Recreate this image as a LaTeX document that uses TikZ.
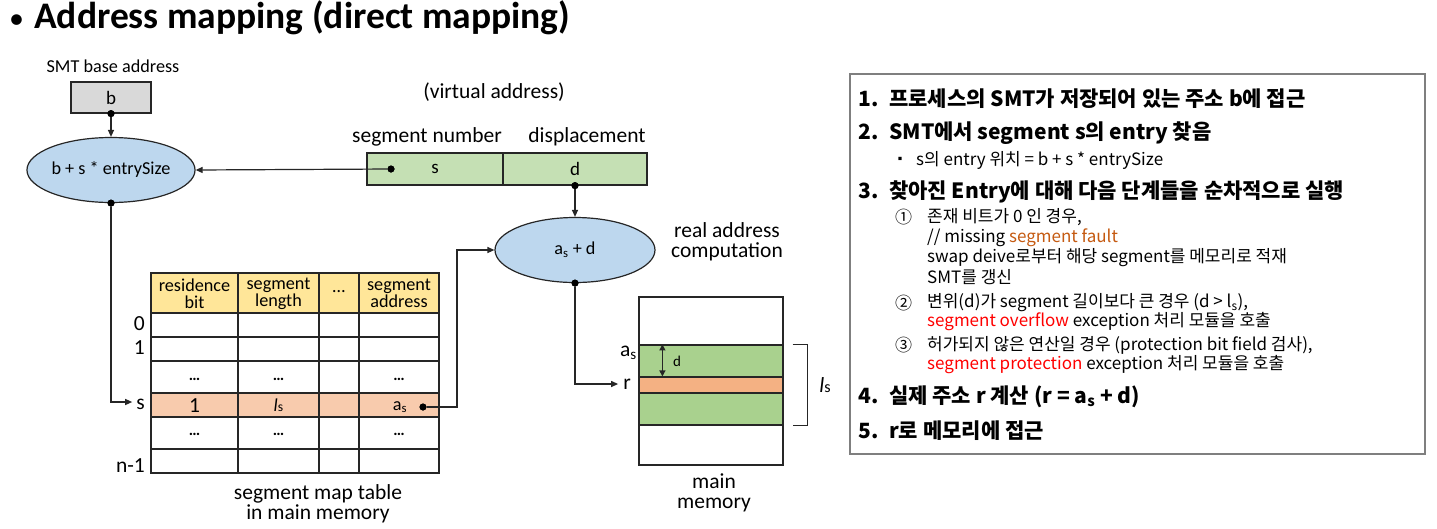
\documentclass[tikz,border=0pt]{standalone}
\usepackage{fontspec}
\setmainfont{Carlito}
\newfontfamily\kr{Noto Sans CJK KR}
\usetikzlibrary{shapes.geometric,arrows.meta,calc}

\definecolor{boxgray}{HTML}{D9D9D9}
\definecolor{ellblue}{HTML}{BDD7EE}
\definecolor{fieldgreen}{HTML}{C5E0B4}
\definecolor{headyellow}{HTML}{FFE699}
\definecolor{rowpeach}{HTML}{F8CBAD}
\definecolor{memgreen}{HTML}{A9D18E}
\definecolor{memorange}{HTML}{F4B183}
\definecolor{faultorange}{HTML}{C55A11}
\definecolor{linegray}{HTML}{262626}
\definecolor{framegray}{HTML}{7F7F7F}

% item number followed by its text
\newcommand\itemnum[2]{\makebox[31pt][l]{#1}#2}
% italic length symbol with small s
\newcommand\lensym{\textit{l}{\fontsize{0.75em}{1em}\selectfont s}}

\tikzset{
  lbl/.style={font=\fontsize{18.2}{17}\selectfont, align=center, inner sep=0},
  captext/.style={font=\fontsize{21.5}{20.5}\selectfont, align=center, inner sep=0},
  conn/.style={draw=linegray, line width=1.2, -{Triangle[length=7pt,width=6pt]}},
  dot/.style={circle, fill=black, inner sep=0, minimum size=7},
  calcell/.style={ellipse, draw=linegray, line width=1.2, fill=ellblue,
    minimum width=160, minimum height=65, inner sep=0, font=\fontsize{18.2}{17}\selectfont},
  field/.style={draw=linegray, line width=1.2, fill=fieldgreen, minimum height=32,
    inner sep=0, font=\fontsize{19}{17}\selectfont},
  tbl/.style={draw=linegray, line width=1.3},
  hdtext/.style={anchor=west, inner sep=0, font=\kr\bfseries\fontsize{21}{24}\selectfont},
  subtext/.style={anchor=west, inner sep=0, font=\kr\fontsize{17}{20}\selectfont},
}

\begin{document}
\begin{tikzpicture}[x=1pt,y=-1pt]
\useasboundingbox (0,0) rectangle (1437,528);
\fill[white] (0,0) rectangle (1437,528);

% heading
\node[anchor=west, inner sep=0, font=\bfseries\fontsize{37.5}{42}\selectfont] (title) at (9,18)
  {{\mdseries\fontsize{30}{30}\selectfont •}\hspace{10pt}Address mapping (direct mapping)};

% SMT base register and entry address computation
\node[lbl] (baselbl) at (113,66) {SMT base address};
\node[draw=linegray, line width=1.2, fill=boxgray, minimum width=80, minimum height=31,
  inner sep=0, font=\fontsize{19}{17}\selectfont] (bbox) at (111,97.5) {b};
\node[calcell] (calc1) at (111,170) {b + s * entrySize};

% virtual address
\node[captext] (vlbl) at (494,92) {(virtual address)};
\node[captext] (snlbl) at (427,137) {segment number};
\node[captext] (dlbl) at (587,137) {displacement};
\node[field, minimum width=136] (sfield) at (435,169) {s};
\node[field, minimum width=144] (dfield) at (575,169) {d};

% real address computation
\node[calcell] (calc2) at (575,250) {a\textsubscript{s} + d};
\node[captext] (reallbl) at (727,242) {real address\\computation};

% segment map table
\fill[headyellow] (151,273) rectangle (439,313);
\fill[rowpeach] (151,393) rectangle (439,417);
\draw[tbl] (151,273) rectangle (439,473);
\foreach \yy in {313,337,361,393,417,449} \draw[tbl] (151,\yy) -- (439,\yy);
\foreach \xx in {238,319,359} \draw[tbl] (\xx,273) -- (\xx,473);

\node[lbl] (h1) at (194.5,293.5) {residence\\bit};
\node[lbl] (h2) at (278.5,293.5) {segment\\length};
\node[lbl] (h3) at (339,292) {…};
\node[lbl] (h4) at (399,293.5) {segment\\address};

\node[captext, anchor=east] (r0) at (145,324) {0};
\node[captext, anchor=east] (r1) at (145,348) {1};
\node[captext, anchor=east] (slabel) at (145,404) {s};
\node[captext, anchor=east] (rn) at (145,466) {n-1};

\foreach \xx/\nm in {194.5/a,278.5/b,399/c} {
  \node[lbl, font=\bfseries\fontsize{16}{16}\selectfont] (dA\nm) at (\xx,379) {…};
  \node[lbl, font=\bfseries\fontsize{16}{16}\selectfont] (dB\nm) at (\xx,434) {…};
}
\node[captext] (v1) at (194.5,405.5) {1};
\node[lbl] (v2) at (278.5,405.5) {\lensym};
\node[lbl] (v3) at (400,407) {a\textsubscript{s}};

\node[captext] (tbllbl) at (318,504) {segment map table\\in main memory};

% main memory
\node[draw=linegray, line width=1.2, fill=white, minimum width=144, minimum height=168, inner sep=0] (mem) at (711,381) {};
\node[draw=linegray, line width=1.2, fill=memgreen, minimum width=144, minimum height=80, inner sep=0] (segm) at (711,385) {};
\node[draw=linegray, line width=1.2, fill=memorange, minimum width=144, minimum height=16, inner sep=0] (rband) at (711,385) {};
\node[captext, anchor=east] (aslbl) at (637,353) {a\textsubscript{s}};
\node[captext, anchor=east] (rlabel) at (631,384) {r};
\draw[draw=linegray, line width=1.2, {Triangle[length=6pt,width=6pt]}-{Triangle[length=6pt,width=6pt]}]
  ($(segm.north west)+(24,0)$) -- ($(rband.north west)+(24,0)$);
\node[lbl, font=\fontsize{15}{15}\selectfont] (dmark) at (677,361) {d};
\draw[draw=linegray, line width=1.2] ($(segm.north east)+(9,0)$) -- ++(15,0) |- ($(segm.south east)+(9,0)$);
\node[captext] (lenlbl) at (825,385) {\lensym};
\node[captext] (memlbl) at (714,493) {main\\memory};

% connectors
\node[dot] (bdot) at (bbox.south) {};
\node[dot] (sdot) at (391,169) {};
\node[dot] (c1dot) at (calc1.south) {};
\node[dot] (ddot) at (dfield.south) {};
\node[dot] (asdot) at (423,407) {};
\node[dot] (c2dot) at (calc2.south) {};

\draw[conn] (bdot) -- (calc1.north);
\draw[conn] (sdot) -- (calc1.east);
\draw[conn] (c1dot) |- ($(slabel.west)+(-4,-2)$);
\draw[conn] (ddot) -- (calc2.north);
\draw[conn] (asdot) -- ++(34,0) |- (calc2.west);
\draw[conn] (c2dot) |- ($(rlabel.west)+(-5,0)$);
\foreach \nn in {bdot,sdot,c1dot,ddot,asdot,c2dot} \node[dot] at (\nn) {};

% procedure box
\draw[draw=framegray, line width=1.5] (850,74) rectangle (1425,454);
\node[hdtext] (st1) at (858,99) {\itemnum{1.}{프로세스의 SMT가 저장되어 있는 주소 b에 접근}};
\node[hdtext] (st2) at (858,133) {\itemnum{2.}{SMT에서 segment s의 entry 찾음}};
\node[subtext, font=\kr\fontsize{12}{12}\selectfont] (bul) at (894,160) {▪};
\node[subtext] (st2a) at (916,160) {s의 entry 위치 = b + s * entrySize};
\node[hdtext] (st3) at (858,192) {\itemnum{3.}{찾아진 Entry에 대해 다음 단계들을 순차적으로 실행}};
\node[subtext] (c1) at (895,217) {①};
\node[subtext] (st3a) at (927,217) {존재 비트가 0 인 경우,};
\node[subtext] (st3b) at (927,238) {// missing \textcolor{faultorange}{segment fault}};
\node[subtext] (st3c) at (927,258) {swap deive로부터 해당 segment를 메모리로 적재};
\node[subtext] (st3d) at (927,277) {SMT를 갱신};
\node[subtext] (c2) at (895,303) {②};
\node[subtext] (st3e) at (927,303) {변위(d)가 segment 길이보다 큰 경우 (d > l\textsubscript{s}),};
\node[subtext] (st3f) at (927,322) {\textcolor{red}{segment overflow} exception 처리 모듈을 호출};
\node[subtext] (c3) at (895,345) {③};
\node[subtext] (st3g) at (927,345) {허가되지 않은 연산일 경우 (protection bit field 검사),};
\node[subtext] (st3h) at (927,365) {\textcolor{red}{segment protection} exception 처리 모듈을 호출};
\node[hdtext] (st4) at (858,397) {\itemnum{4.}{실제 주소 r 계산 (r = a\textsubscript{s} + d)}};
\node[hdtext] (st5) at (858,431) {\itemnum{5.}{r로 메모리에 접근}};
\end{tikzpicture}
\end{document}
